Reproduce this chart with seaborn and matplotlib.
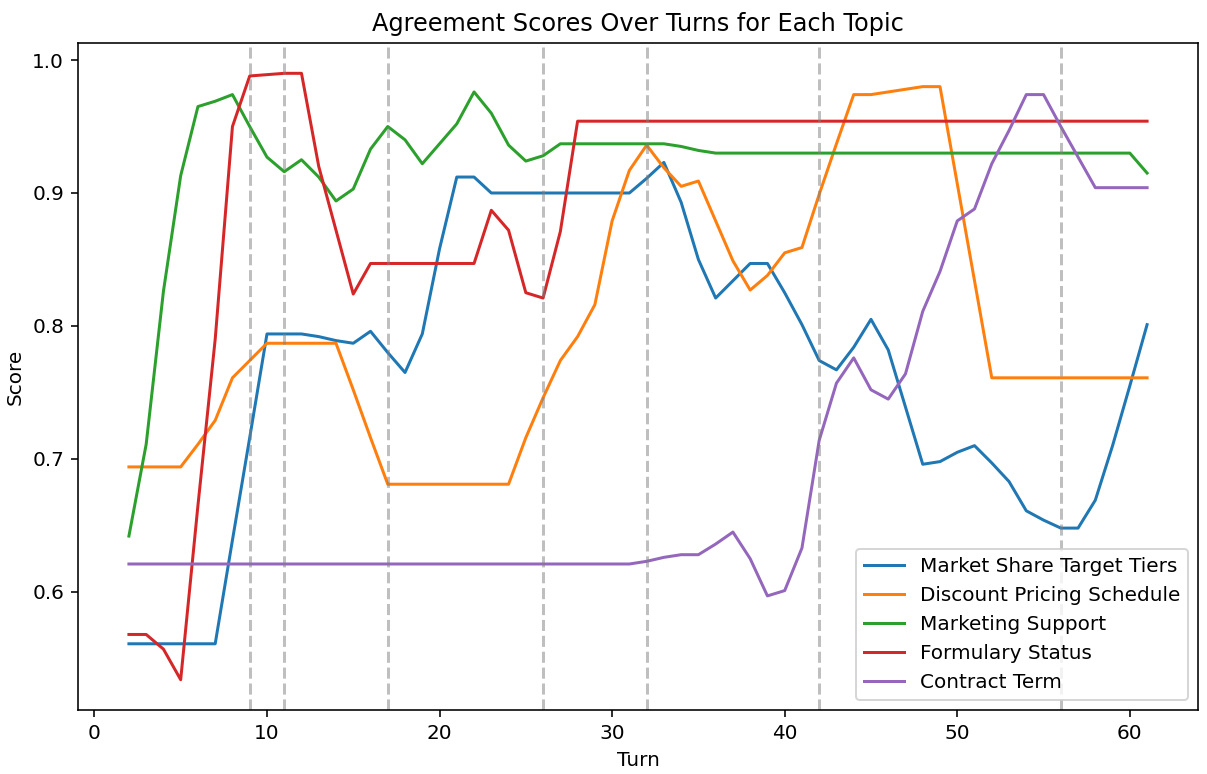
import numpy as np
import pandas as pd
import matplotlib
matplotlib.use("Agg")
import matplotlib.pyplot as plt
import seaborn as sns

turns = list(range(2, 62))

market_share = [0.561, 0.561, 0.561, 0.561, 0.561, 0.561, 0.639, 0.716, 0.794, 0.794,
                0.794, 0.792, 0.789, 0.787, 0.796, 0.780, 0.765, 0.794, 0.858, 0.912,
                0.912, 0.900, 0.900, 0.900, 0.900, 0.900, 0.900, 0.900, 0.900, 0.900,
                0.911, 0.923, 0.893, 0.850, 0.821, 0.834, 0.847, 0.847, 0.825, 0.801,
                0.774, 0.767, 0.784, 0.805, 0.782, 0.739, 0.696, 0.698, 0.705, 0.710,
                0.697, 0.683, 0.661, 0.654, 0.648, 0.648, 0.669, 0.710, 0.755, 0.801]

discount = [0.694, 0.694, 0.694, 0.694, 0.711, 0.729, 0.761, 0.774, 0.787, 0.787,
            0.787, 0.787, 0.787, 0.752, 0.716, 0.681, 0.681, 0.681, 0.681, 0.681,
            0.681, 0.681, 0.681, 0.716, 0.746, 0.774, 0.792, 0.816, 0.879, 0.917,
            0.936, 0.919, 0.905, 0.909, 0.879, 0.849, 0.827, 0.838, 0.855, 0.859,
            0.899, 0.937, 0.974, 0.974, 0.976, 0.978, 0.980, 0.980, 0.907, 0.834,
            0.761, 0.761, 0.761, 0.761, 0.761, 0.761, 0.761, 0.761, 0.761, 0.761]

marketing = [0.642, 0.711, 0.826, 0.913, 0.965, 0.969, 0.974, 0.950, 0.927, 0.916,
             0.925, 0.912, 0.894, 0.903, 0.933, 0.950, 0.940, 0.922, 0.937, 0.952,
             0.976, 0.960, 0.936, 0.924, 0.928, 0.937, 0.937, 0.937, 0.937, 0.937,
             0.937, 0.937, 0.935, 0.932, 0.930, 0.930, 0.930, 0.930, 0.930, 0.930,
             0.930, 0.930, 0.930, 0.930, 0.930, 0.930, 0.930, 0.930, 0.930, 0.930,
             0.930, 0.930, 0.930, 0.930, 0.930, 0.930, 0.930, 0.930, 0.930, 0.915]

formulary = [0.568, 0.568, 0.557, 0.534, 0.665, 0.790, 0.950, 0.988, 0.989, 0.990,
             0.990, 0.920, 0.872, 0.824, 0.847, 0.847, 0.847, 0.847, 0.847, 0.847,
             0.847, 0.887, 0.872, 0.825, 0.821, 0.871, 0.954, 0.954, 0.954, 0.954,
             0.954, 0.954, 0.954, 0.954, 0.954, 0.954, 0.954, 0.954, 0.954, 0.954,
             0.954, 0.954, 0.954, 0.954, 0.954, 0.954, 0.954, 0.954, 0.954, 0.954,
             0.954, 0.954, 0.954, 0.954, 0.954, 0.954, 0.954, 0.954, 0.954, 0.954]

contract = [0.621, 0.621, 0.621, 0.621, 0.621, 0.621, 0.621, 0.621, 0.621, 0.621,
            0.621, 0.621, 0.621, 0.621, 0.621, 0.621, 0.621, 0.621, 0.621, 0.621,
            0.621, 0.621, 0.621, 0.621, 0.621, 0.621, 0.621, 0.621, 0.621, 0.621,
            0.623, 0.626, 0.628, 0.628, 0.636, 0.645, 0.625, 0.597, 0.601, 0.633,
            0.714, 0.757, 0.776, 0.752, 0.745, 0.764, 0.811, 0.841, 0.879, 0.888,
            0.922, 0.947, 0.974, 0.974, 0.950, 0.927, 0.904, 0.904, 0.904, 0.904]

topics = ["Market Share Target Tiers", "Discount Pricing Schedule",
          "Marketing Support", "Formulary Status", "Contract Term"]
series = [market_share, discount, marketing, formulary, contract]

event_turns = [9, 11, 17, 26, 32, 42, 56]

rows = []
for topic, vals in zip(topics, series):
    for t, v in zip(turns, vals):
        rows.append({"Turn": t, "Score": v, "Topic": topic})
df = pd.DataFrame(rows)

DPI = 144
fig = plt.figure(figsize=(1207 / DPI, 774 / DPI), dpi=DPI)
ax = fig.add_axes([78 / 1207, 1 - 710 / 774, (1198 - 78) / 1207, (710 - 43) / 774])

palette = ["#1f77b4", "#ff7f0e", "#2ca02c", "#d62728", "#9467bd"]
sns.lineplot(data=df, x="Turn", y="Score", hue="Topic", hue_order=topics,
             palette=palette, ax=ax, linewidth=1.5)

for t in event_turns:
    ax.axvline(t, color="gray", linestyle="--", alpha=0.5)

ax.set_title("Agreement Scores Over Turns for Each Topic")
ax.set_xlabel("Turn")
ax.set_ylabel("Score")
handles, labels = ax.get_legend_handles_labels()
ax.legend(handles, labels, loc="lower right")

fig.savefig("out.png", dpi=DPI)
